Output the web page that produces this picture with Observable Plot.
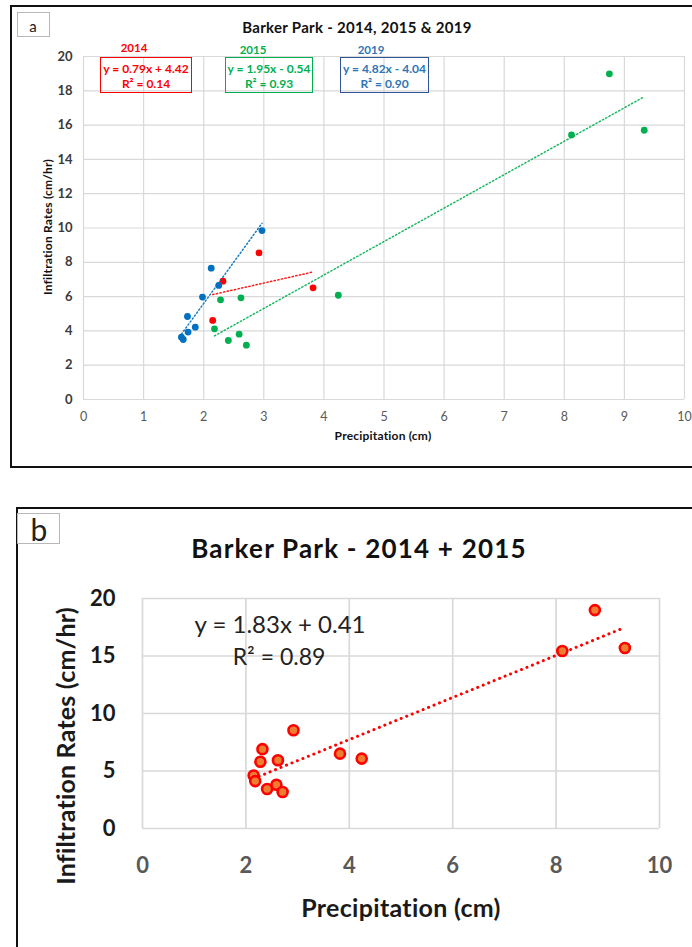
<!DOCTYPE html>
<html>
<head>
<meta charset="utf-8">
<script src="https://cdn.jsdelivr.net/npm/d3@7"></script>
<script src="https://cdn.jsdelivr.net/npm/@observablehq/plot@0.6"></script>
<style>
  html, body { margin: 0; padding: 0; background: #fff; }
  #page { position: relative; width: 692px; height: 947px; overflow: hidden; font-family: Lato, "Open Sans", sans-serif; color: #111; }
  #page svg { position: absolute; left: 0; }
  .t { position: absolute; white-space: nowrap; line-height: 1; transform: translate(-50%, -50%); }
  .rot { transform: translate(-50%, -50%) rotate(-90deg); }
  .box { position: absolute; box-sizing: border-box; pointer-events: none; }
</style>
</head>
<body>
<div id="page"></div>
<script>
// Barker Park field measurements: precipitation (cm) vs infiltration rate (cm/hr)
const years = ["2014", "2015", "2019"];
const colors = ["#ff0000", "#00b050", "#0070c0"];
const labelColors = ["#ff0000", "#00b050", "#2e75b6"];
const boxColors = ["#ff0000", "#00b050", "#2f5597"];

const precip2014 = [2.15, 2.32, 2.92, 3.82];
const infil2014 = [4.61, 6.90, 8.55, 6.51];

const precip2015 = [2.18, 2.28, 2.41, 2.59, 2.62, 2.71, 4.24, 8.12, 8.75, 9.33];
const infil2015 = [4.12, 5.81, 3.44, 3.81, 5.93, 3.17, 6.08, 15.43, 18.99, 15.70];

const precip2019 = [1.63, 1.66, 1.73, 1.74, 1.86, 1.98, 2.125, 2.25, 2.97];
const infil2019 = [3.63, 3.50, 4.84, 3.93, 4.22, 5.97, 7.66, 6.65, 9.85];

// linear trendlines per year, and for 2014 + 2015 combined
const slopes = [0.79, 1.95, 4.82];
const intercepts = [4.42, -0.54, -4.04];
const rSquared = [0.14, 0.93, 0.90];
const slopeAll = 1.83;
const interceptAll = 0.41;
const rSquaredAll = 0.89;

const xTicksA = [0, 1, 2, 3, 4, 5, 6, 7, 8, 9, 10];
const yTicksA = [0, 2, 4, 6, 8, 10, 12, 14, 16, 18, 20];
const xTicksB = [0, 2, 4, 6, 8, 10];
const yTicksB = [0, 5, 10, 15, 20];

const precipByYear = [precip2014, precip2015, precip2019];
const infilByYear = [infil2014, infil2015, infil2019];

const series = years.map((year, i) => ({
  year,
  color: colors[i],
  points: precipByYear[i].map((p, j) => ({x: p, y: infilByYear[i][j]})),
  slope: slopes[i],
  intercept: intercepts[i],
  r2: rSquared[i]
}));

// a fitted line spans the x extent of its own points
function trendPoints(points, m, b) {
  const [x0, x1] = d3.extent(points, d => d.x);
  return [x0, x1].map(x => ({x, y: m * x + b}));
}

function equation(m, b) {
  return `y = ${m.toFixed(2)}x ${b < 0 ? "-" : "+"} ${Math.abs(b).toFixed(2)}`;
}

const page = document.getElementById("page");

function text(str, cx, cy, css = {}, cls = "t") {
  const el = document.createElement("div");
  el.className = cls;
  el.textContent = str;
  el.style.left = cx + "px";
  el.style.top = cy + "px";
  Object.assign(el.style, css);
  page.appendChild(el);
  return el;
}

function rect(left, top, width, height, css) {
  const el = document.createElement("div");
  el.className = "box";
  Object.assign(el.style, {left: left + "px", top: top + "px", width: width + "px", height: height + "px"}, css);
  page.appendChild(el);
  return el;
}

// ---------- panel a: each year separately ----------
const plotA = Plot.plot({
  width: 692,
  height: 470,
  marginLeft: 83,
  marginRight: 8,
  marginTop: 56,
  marginBottom: 71,
  x: {domain: [0, 10]},
  y: {domain: [0, 20]},
  style: {fontFamily: "Lato, sans-serif", background: "transparent", overflow: "visible"},
  marks: [
    Plot.ruleX(xTicksA, {stroke: "#d9d9d9", strokeWidth: 1.2}),
    Plot.ruleY(yTicksA, {stroke: "#d9d9d9", strokeWidth: 1.2}),
    Plot.axisX({ticks: xTicksA, tickSize: 0, tickPadding: 13, fontSize: 12.5, color: "#595959", label: null}),
    Plot.axisY({ticks: yTicksA, tickSize: 0, tickPadding: 11, fontSize: 13, fontWeight: "bold", color: "#3a3a3a", label: null}),
    ...series.map(s => Plot.dot(s.points, {x: "x", y: "y", r: 3.4, fill: s.color, stroke: "none"})),
    ...series.map(s => Plot.line(trendPoints(s.points, s.slope, s.intercept), {
      x: "x", y: "y", stroke: s.color, strokeWidth: 1.5, strokeDasharray: "1.3 2.4", strokeOpacity: 0.9
    }))
  ]
});
plotA.style.top = "0px";
page.appendChild(plotA);

text("Barker Park - 2014, 2015 & 2019", 357, 27, {fontSize: "15px", fontWeight: "bold", letterSpacing: "0.3px"});
text("Precipitation (cm)", 383, 436, {fontSize: "12px", fontWeight: "bold", letterSpacing: "0.2px"});
text("Infiltration Rates (cm/hr)", 48, 227, {fontSize: "12px", fontWeight: "bold", letterSpacing: "0.2px"}, "t rot");

// equation boxes above the plot
const boxLeft = [100, 225, 340];
const boxRight = [192, 313, 429];
const yearLabelPos = [[134, 47.5], [253, 50], [371, 49.5]];
series.forEach((s, i) => {
  rect(boxLeft[i], 57, boxRight[i] - boxLeft[i], 36, {border: `1.5px solid ${boxColors[i]}`});
  const cx = (boxLeft[i] + boxRight[i]) / 2;
  text(equation(s.slope, s.intercept), cx, 69, {fontSize: "12px", fontWeight: "bold", color: labelColors[i]});
  text(`R² = ${s.r2.toFixed(2)}`, cx, 83.5, {fontSize: "12px", fontWeight: "bold", color: labelColors[i]});
  text(s.year, yearLabelPos[i][0], yearLabelPos[i][1], {fontSize: "11.5px", fontWeight: "bold", color: labelColors[i]});
});

// ---------- panel b: 2014 and 2015 pooled ----------
const pooled = [...series[0].points, ...series[1].points];

const plotB = Plot.plot({
  width: 692,
  height: 467,
  marginLeft: 142,
  marginRight: 33,
  marginTop: 118,
  marginBottom: 119,
  x: {domain: [0, 10]},
  y: {domain: [0, 20]},
  style: {fontFamily: "Lato, sans-serif", background: "transparent", overflow: "visible"},
  marks: [
    Plot.ruleX(xTicksB, {stroke: "#d9d9d9", strokeWidth: 1.7}),
    Plot.ruleY(yTicksB, {stroke: "#d9d9d9", strokeWidth: 1.7}),
    Plot.axisX({ticks: xTicksB, tickSize: 0, tickPadding: 29, fontSize: 22, fontWeight: "bold", color: "#595959", label: null}),
    Plot.axisY({ticks: yTicksB, tickSize: 0, tickPadding: 27, fontSize: 22, fontWeight: "bold", color: "#1a1a1a", label: null}),
    Plot.line(trendPoints(pooled, slopeAll, interceptAll), {
      x: "x", y: "y", stroke: "#ff0000", strokeWidth: 3, strokeDasharray: "0.1 5.8", strokeLinecap: "round"
    }),
    Plot.dot(pooled, {x: "x", y: "y", r: 5, fill: "#ed7d31", stroke: "#ff0000", strokeWidth: 2.6})
  ]
});
plotB.style.top = "480px";
page.appendChild(plotB);

text("Barker Park - 2014 + 2015", 359, 548, {fontSize: "26px", fontWeight: "bold", letterSpacing: "1.2px"});
text(equation(slopeAll, interceptAll), 280, 624, {fontSize: "24px", color: "#222"});
text(`R² = ${rSquaredAll.toFixed(2)}`, 279, 656, {fontSize: "23px", color: "#222"});
text("Precipitation (cm)", 401, 907, {fontSize: "25px", fontWeight: "bold", color: "#1a1a1a", letterSpacing: "0.3px"});
text("Infiltration Rates (cm/hr)", 65, 746, {fontSize: "25px", fontWeight: "bold", color: "#1a1a1a", letterSpacing: "0.2px"}, "t rot");

// panel frames and corner tags
rect(10, 5, 720, 463, {border: "2px solid #111"});
rect(16, 507, 720, 480, {border: "2px solid #111"});
rect(17, 12, 33, 25, {border: "1px solid #b8b8b8"});
text("a", 33, 26, {fontSize: "15px", color: "#222"});
rect(17, 513, 43, 31, {border: "1.5px solid #b8b8b8"});
text("b", 39, 529, {fontSize: "30px", color: "#222"});
</script>
</body>
</html>
